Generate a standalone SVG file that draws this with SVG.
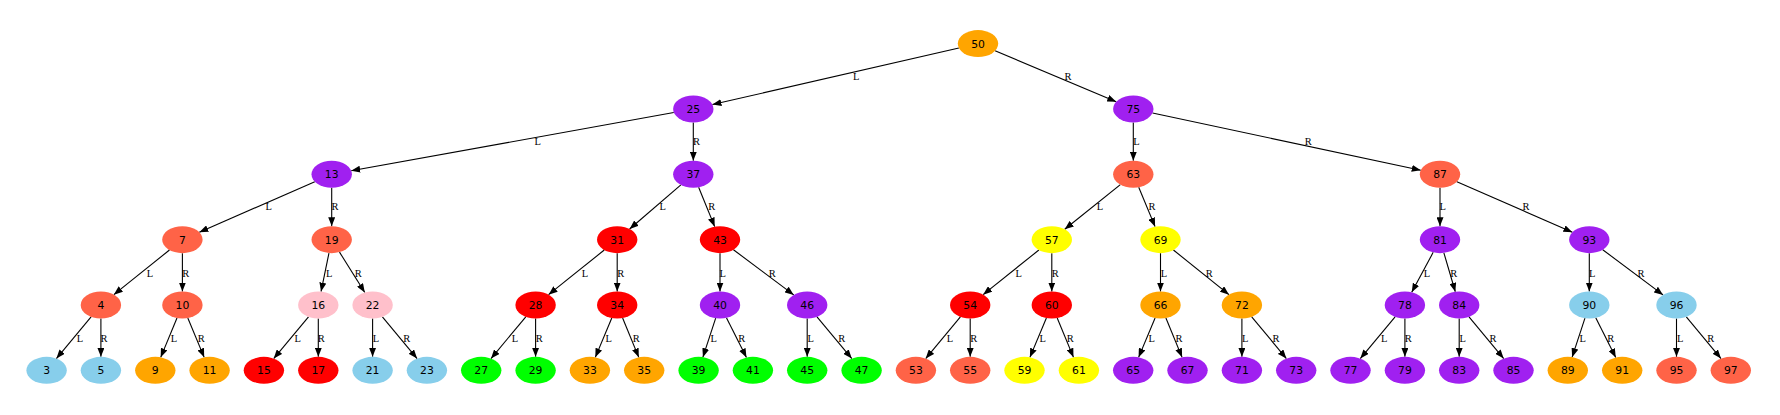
<svg xmlns="http://www.w3.org/2000/svg" width="1780" height="415" viewBox="0 0 1780 415">
<style>
.e line{stroke:#000;stroke-width:1.1;fill:none;marker-end:url(#ah)}
.e text{font-family:"Liberation Serif","DejaVu Serif",serif;font-size:10.5px;fill:#000;text-anchor:middle}
.n ellipse{stroke:none}
.n text{font-family:"DejaVu Sans","Liberation Sans",sans-serif;font-size:10.8px;fill:#000;text-anchor:middle}
.orange{fill:#FFA500}.purple{fill:#A020F0}.tomato{fill:#FF6347}.red{fill:#FF0000}
.pink{fill:#FFC0CB}.sky{fill:#87CEEB}.green{fill:#00FF00}.yellow{fill:#FFFF00}
</style>
<defs>
<marker id="ah" viewBox="0 0 9 7" refX="9" refY="3.5" markerWidth="9" markerHeight="7" markerUnits="userSpaceOnUse" orient="auto" preserveAspectRatio="none">
<path d="M0,0 L9,3.5 L0,7 z" fill="#000"/>
</marker>
</defs>
<rect width="1780" height="415" fill="#fff"/>
<g id="connectors" class="e">
<line x1="958.89" y1="47.99" x2="712.41" y2="104.56"/><text x="856.2" y="80">L</text>
<line x1="995.09" y1="50.79" x2="1116.21" y2="101.76"/><text x="1068" y="80">R</text>
<line x1="673.8" y1="112.47" x2="351.2" y2="170.78"/><text x="537.7" y="145.3">L</text>
<line x1="693.3" y1="122.45" x2="693.3" y2="160.8"/><text x="696.4" y="145.3">R</text>
<line x1="1133.3" y1="122.45" x2="1133.3" y2="160.8"/><text x="1136.5" y="145.3">L</text>
<line x1="1152.55" y1="113.05" x2="1420.75" y2="170.2"/><text x="1308.2" y="145.3">R</text>
<line x1="314.8" y1="181.7" x2="199.3" y2="232.25"/><text x="268.7" y="210.4">L</text>
<line x1="331.7" y1="187.8" x2="331.7" y2="226.15"/><text x="335" y="210.4">R</text>
<line x1="680.89" y1="184.95" x2="629.61" y2="229.0"/><text x="662.7" y="210.4">L</text>
<line x1="698.62" y1="187.32" x2="714.68" y2="226.63"/><text x="711.7" y="210.4">R</text>
<line x1="1120.37" y1="184.67" x2="1064.73" y2="229.28"/><text x="1100" y="210.4">L</text>
<line x1="1138.71" y1="187.31" x2="1155.09" y2="226.64"/><text x="1152" y="210.4">R</text>
<line x1="1440" y1="187.8" x2="1440" y2="226.15"/><text x="1442.7" y="210.4">L</text>
<line x1="1456.9" y1="181.7" x2="1572.4" y2="232.25"/><text x="1526" y="210.4">R</text>
<line x1="169.47" y1="250.02" x2="113.83" y2="294.63"/><text x="150" y="276.7">L</text>
<line x1="182.4" y1="253.15" x2="182.4" y2="291.5"/><text x="185.7" y="276.7">R</text>
<line x1="328.96" y1="253.03" x2="321.04" y2="291.62"/><text x="329.3" y="276.7">L</text>
<line x1="339.49" y1="252.1" x2="364.81" y2="292.55"/><text x="358.3" y="276.7">R</text>
<line x1="604.27" y1="250.02" x2="548.53" y2="294.63"/><text x="585" y="276.7">L</text>
<line x1="617.2" y1="253.15" x2="617.2" y2="291.5"/><text x="620.7" y="276.7">R</text>
<line x1="720" y1="253.15" x2="720" y2="291.5"/><text x="722.7" y="276.7">L</text>
<line x1="733.44" y1="249.73" x2="793.76" y2="294.92"/><text x="772.3" y="276.7">R</text>
<line x1="1038.87" y1="250.02" x2="983.13" y2="294.63"/><text x="1018.7" y="276.7">L</text>
<line x1="1051.8" y1="253.15" x2="1051.8" y2="291.5"/><text x="1055.3" y="276.7">R</text>
<line x1="1160.5" y1="253.15" x2="1160.5" y2="291.5"/><text x="1164" y="276.7">L</text>
<line x1="1173.43" y1="250.02" x2="1228.97" y2="294.63"/><text x="1209.3" y="276.7">R</text>
<line x1="1433.18" y1="252.36" x2="1411.72" y2="292.29"/><text x="1427" y="276.7">L</text>
<line x1="1443.89" y1="252.9" x2="1455.31" y2="291.75"/><text x="1453.7" y="276.7">R</text>
<line x1="1589.3" y1="253.15" x2="1589.3" y2="291.5"/><text x="1592.3" y="276.7">L</text>
<line x1="1602.74" y1="249.73" x2="1663.06" y2="294.92"/><text x="1641" y="276.7">R</text>
<line x1="91.09" y1="316.8" x2="56.41" y2="358.55"/><text x="80" y="342">L</text>
<line x1="100.9" y1="318.5" x2="100.9" y2="356.85"/><text x="104" y="342">R</text>
<line x1="176.99" y1="318.01" x2="160.71" y2="357.34"/><text x="174" y="342">L</text>
<line x1="187.81" y1="318.01" x2="204.19" y2="357.34"/><text x="201.3" y="342">R</text>
<line x1="308.49" y1="316.8" x2="273.71" y2="358.55"/><text x="297.7" y="342">L</text>
<line x1="318.3" y1="318.5" x2="318.3" y2="356.85"/><text x="321.3" y="342">R</text>
<line x1="372.6" y1="318.5" x2="372.6" y2="356.85"/><text x="376" y="342">L</text>
<line x1="382.41" y1="316.8" x2="417.09" y2="358.55"/><text x="406.7" y="342">R</text>
<line x1="525.79" y1="316.8" x2="491.01" y2="358.55"/><text x="515" y="342">L</text>
<line x1="535.6" y1="318.5" x2="535.6" y2="356.85"/><text x="539.3" y="342">R</text>
<line x1="611.79" y1="318.01" x2="595.31" y2="357.34"/><text x="608.7" y="342">L</text>
<line x1="622.61" y1="318.01" x2="638.79" y2="357.34"/><text x="636.3" y="342">R</text>
<line x1="715.68" y1="318.19" x2="702.92" y2="357.16"/><text x="713.7" y="342">L</text>
<line x1="726.44" y1="317.8" x2="746.46" y2="357.55"/><text x="741.7" y="342">R</text>
<line x1="807.2" y1="318.5" x2="807.2" y2="356.85"/><text x="810.7" y="342">L</text>
<line x1="817.01" y1="316.8" x2="851.79" y2="358.55"/><text x="841.7" y="342">R</text>
<line x1="960.39" y1="316.8" x2="925.71" y2="358.55"/><text x="950" y="342">L</text>
<line x1="970.2" y1="318.5" x2="970.2" y2="356.85"/><text x="973.7" y="342">R</text>
<line x1="1046.39" y1="318.01" x2="1029.91" y2="357.34"/><text x="1042.7" y="342">L</text>
<line x1="1057.21" y1="318.01" x2="1073.49" y2="357.34"/><text x="1070.3" y="342">R</text>
<line x1="1155.09" y1="318.01" x2="1138.61" y2="357.34"/><text x="1151.7" y="342">L</text>
<line x1="1165.91" y1="318.01" x2="1182.09" y2="357.34"/><text x="1179" y="342">R</text>
<line x1="1241.9" y1="318.5" x2="1241.9" y2="356.85"/><text x="1245.3" y="342">L</text>
<line x1="1251.71" y1="316.8" x2="1286.39" y2="358.55"/><text x="1276" y="342">R</text>
<line x1="1395.09" y1="316.8" x2="1360.31" y2="358.55"/><text x="1384.3" y="342">L</text>
<line x1="1404.9" y1="318.5" x2="1404.9" y2="356.85"/><text x="1408.3" y="342">R</text>
<line x1="1459.2" y1="318.5" x2="1459.2" y2="356.85"/><text x="1462.7" y="342">L</text>
<line x1="1469.01" y1="316.8" x2="1503.69" y2="358.55"/><text x="1493" y="342">R</text>
<line x1="1584.96" y1="318.19" x2="1572.14" y2="357.16"/><text x="1582.7" y="342">L</text>
<line x1="1595.74" y1="317.8" x2="1615.76" y2="357.55"/><text x="1610.7" y="342">R</text>
<line x1="1676.5" y1="318.5" x2="1676.5" y2="356.85"/><text x="1680.3" y="342">L</text>
<line x1="1686.31" y1="316.8" x2="1720.99" y2="358.55"/><text x="1710.7" y="342">R</text>
</g>
<g id="n50" class="n"><ellipse class="orange" cx="978" cy="43.6" rx="20.2" ry="13.5"/><text x="978" y="47.5">50</text></g>
<g id="n25" class="n"><ellipse class="purple" cx="693.3" cy="108.95" rx="20.2" ry="13.5"/><text x="693.3" y="112.85">25</text></g>
<g id="n75" class="n"><ellipse class="purple" cx="1133.3" cy="108.95" rx="20.2" ry="13.5"/><text x="1133.3" y="112.85">75</text></g>
<g id="n13" class="n"><ellipse class="purple" cx="331.7" cy="174.3" rx="20.2" ry="13.5"/><text x="331.7" y="178.2">13</text></g>
<g id="n37" class="n"><ellipse class="purple" cx="693.3" cy="174.3" rx="20.2" ry="13.5"/><text x="693.3" y="178.2">37</text></g>
<g id="n63" class="n"><ellipse class="tomato" cx="1133.3" cy="174.3" rx="20.2" ry="13.5"/><text x="1133.3" y="178.2">63</text></g>
<g id="n87" class="n"><ellipse class="tomato" cx="1440" cy="174.3" rx="20.2" ry="13.5"/><text x="1440" y="178.2">87</text></g>
<g id="n7" class="n"><ellipse class="tomato" cx="182.4" cy="239.65" rx="20.2" ry="13.5"/><text x="182.4" y="243.55">7</text></g>
<g id="n19" class="n"><ellipse class="tomato" cx="331.7" cy="239.65" rx="20.2" ry="13.5"/><text x="331.7" y="243.55">19</text></g>
<g id="n31" class="n"><ellipse class="red" cx="617.2" cy="239.65" rx="20.2" ry="13.5"/><text x="617.2" y="243.55">31</text></g>
<g id="n43" class="n"><ellipse class="red" cx="720" cy="239.65" rx="20.2" ry="13.5"/><text x="720" y="243.55">43</text></g>
<g id="n57" class="n"><ellipse class="yellow" cx="1051.8" cy="239.65" rx="20.2" ry="13.5"/><text x="1051.8" y="243.55">57</text></g>
<g id="n69" class="n"><ellipse class="yellow" cx="1160.5" cy="239.65" rx="20.2" ry="13.5"/><text x="1160.5" y="243.55">69</text></g>
<g id="n81" class="n"><ellipse class="purple" cx="1440" cy="239.65" rx="20.2" ry="13.5"/><text x="1440" y="243.55">81</text></g>
<g id="n93" class="n"><ellipse class="purple" cx="1589.3" cy="239.65" rx="20.2" ry="13.5"/><text x="1589.3" y="243.55">93</text></g>
<g id="n4" class="n"><ellipse class="tomato" cx="100.9" cy="305" rx="20.2" ry="13.5"/><text x="100.9" y="308.9">4</text></g>
<g id="n10" class="n"><ellipse class="tomato" cx="182.4" cy="305" rx="20.2" ry="13.5"/><text x="182.4" y="308.9">10</text></g>
<g id="n16" class="n"><ellipse class="pink" cx="318.3" cy="305" rx="20.2" ry="13.5"/><text x="318.3" y="308.9">16</text></g>
<g id="n22" class="n"><ellipse class="pink" cx="372.6" cy="305" rx="20.2" ry="13.5"/><text x="372.6" y="308.9">22</text></g>
<g id="n28" class="n"><ellipse class="red" cx="535.6" cy="305" rx="20.2" ry="13.5"/><text x="535.6" y="308.9">28</text></g>
<g id="n34" class="n"><ellipse class="red" cx="617.2" cy="305" rx="20.2" ry="13.5"/><text x="617.2" y="308.9">34</text></g>
<g id="n40" class="n"><ellipse class="purple" cx="720" cy="305" rx="20.2" ry="13.5"/><text x="720" y="308.9">40</text></g>
<g id="n46" class="n"><ellipse class="purple" cx="807.2" cy="305" rx="20.2" ry="13.5"/><text x="807.2" y="308.9">46</text></g>
<g id="n54" class="n"><ellipse class="red" cx="970.2" cy="305" rx="20.2" ry="13.5"/><text x="970.2" y="308.9">54</text></g>
<g id="n60" class="n"><ellipse class="red" cx="1051.8" cy="305" rx="20.2" ry="13.5"/><text x="1051.8" y="308.9">60</text></g>
<g id="n66" class="n"><ellipse class="orange" cx="1160.5" cy="305" rx="20.2" ry="13.5"/><text x="1160.5" y="308.9">66</text></g>
<g id="n72" class="n"><ellipse class="orange" cx="1241.9" cy="305" rx="20.2" ry="13.5"/><text x="1241.9" y="308.9">72</text></g>
<g id="n78" class="n"><ellipse class="purple" cx="1404.9" cy="305" rx="20.2" ry="13.5"/><text x="1404.9" y="308.9">78</text></g>
<g id="n84" class="n"><ellipse class="purple" cx="1459.2" cy="305" rx="20.2" ry="13.5"/><text x="1459.2" y="308.9">84</text></g>
<g id="n90" class="n"><ellipse class="sky" cx="1589.3" cy="305" rx="20.2" ry="13.5"/><text x="1589.3" y="308.9">90</text></g>
<g id="n96" class="n"><ellipse class="sky" cx="1676.5" cy="305" rx="20.2" ry="13.5"/><text x="1676.5" y="308.9">96</text></g>
<g id="n3" class="n"><ellipse class="sky" cx="46.6" cy="370.35" rx="20.2" ry="13.5"/><text x="46.6" y="374.25">3</text></g>
<g id="n5" class="n"><ellipse class="sky" cx="100.9" cy="370.35" rx="20.2" ry="13.5"/><text x="100.9" y="374.25">5</text></g>
<g id="n9" class="n"><ellipse class="orange" cx="155.3" cy="370.35" rx="20.2" ry="13.5"/><text x="155.3" y="374.25">9</text></g>
<g id="n11" class="n"><ellipse class="orange" cx="209.6" cy="370.35" rx="20.2" ry="13.5"/><text x="209.6" y="374.25">11</text></g>
<g id="n15" class="n"><ellipse class="red" cx="263.9" cy="370.35" rx="20.2" ry="13.5"/><text x="263.9" y="374.25">15</text></g>
<g id="n17" class="n"><ellipse class="red" cx="318.3" cy="370.35" rx="20.2" ry="13.5"/><text x="318.3" y="374.25">17</text></g>
<g id="n21" class="n"><ellipse class="sky" cx="372.6" cy="370.35" rx="20.2" ry="13.5"/><text x="372.6" y="374.25">21</text></g>
<g id="n23" class="n"><ellipse class="sky" cx="426.9" cy="370.35" rx="20.2" ry="13.5"/><text x="426.9" y="374.25">23</text></g>
<g id="n27" class="n"><ellipse class="green" cx="481.2" cy="370.35" rx="20.2" ry="13.5"/><text x="481.2" y="374.25">27</text></g>
<g id="n29" class="n"><ellipse class="green" cx="535.6" cy="370.35" rx="20.2" ry="13.5"/><text x="535.6" y="374.25">29</text></g>
<g id="n33" class="n"><ellipse class="orange" cx="589.9" cy="370.35" rx="20.2" ry="13.5"/><text x="589.9" y="374.25">33</text></g>
<g id="n35" class="n"><ellipse class="orange" cx="644.2" cy="370.35" rx="20.2" ry="13.5"/><text x="644.2" y="374.25">35</text></g>
<g id="n39" class="n"><ellipse class="green" cx="698.6" cy="370.35" rx="20.2" ry="13.5"/><text x="698.6" y="374.25">39</text></g>
<g id="n41" class="n"><ellipse class="green" cx="752.9" cy="370.35" rx="20.2" ry="13.5"/><text x="752.9" y="374.25">41</text></g>
<g id="n45" class="n"><ellipse class="green" cx="807.2" cy="370.35" rx="20.2" ry="13.5"/><text x="807.2" y="374.25">45</text></g>
<g id="n47" class="n"><ellipse class="green" cx="861.6" cy="370.35" rx="20.2" ry="13.5"/><text x="861.6" y="374.25">47</text></g>
<g id="n53" class="n"><ellipse class="tomato" cx="915.9" cy="370.35" rx="20.2" ry="13.5"/><text x="915.9" y="374.25">53</text></g>
<g id="n55" class="n"><ellipse class="tomato" cx="970.2" cy="370.35" rx="20.2" ry="13.5"/><text x="970.2" y="374.25">55</text></g>
<g id="n59" class="n"><ellipse class="yellow" cx="1024.5" cy="370.35" rx="20.2" ry="13.5"/><text x="1024.5" y="374.25">59</text></g>
<g id="n61" class="n"><ellipse class="yellow" cx="1078.9" cy="370.35" rx="20.2" ry="13.5"/><text x="1078.9" y="374.25">61</text></g>
<g id="n65" class="n"><ellipse class="purple" cx="1133.2" cy="370.35" rx="20.2" ry="13.5"/><text x="1133.2" y="374.25">65</text></g>
<g id="n67" class="n"><ellipse class="purple" cx="1187.5" cy="370.35" rx="20.2" ry="13.5"/><text x="1187.5" y="374.25">67</text></g>
<g id="n71" class="n"><ellipse class="purple" cx="1241.9" cy="370.35" rx="20.2" ry="13.5"/><text x="1241.9" y="374.25">71</text></g>
<g id="n73" class="n"><ellipse class="purple" cx="1296.2" cy="370.35" rx="20.2" ry="13.5"/><text x="1296.2" y="374.25">73</text></g>
<g id="n77" class="n"><ellipse class="purple" cx="1350.5" cy="370.35" rx="20.2" ry="13.5"/><text x="1350.5" y="374.25">77</text></g>
<g id="n79" class="n"><ellipse class="purple" cx="1404.9" cy="370.35" rx="20.2" ry="13.5"/><text x="1404.9" y="374.25">79</text></g>
<g id="n83" class="n"><ellipse class="purple" cx="1459.2" cy="370.35" rx="20.2" ry="13.5"/><text x="1459.2" y="374.25">83</text></g>
<g id="n85" class="n"><ellipse class="purple" cx="1513.5" cy="370.35" rx="20.2" ry="13.5"/><text x="1513.5" y="374.25">85</text></g>
<g id="n89" class="n"><ellipse class="orange" cx="1567.8" cy="370.35" rx="20.2" ry="13.5"/><text x="1567.8" y="374.25">89</text></g>
<g id="n91" class="n"><ellipse class="orange" cx="1622.2" cy="370.35" rx="20.2" ry="13.5"/><text x="1622.2" y="374.25">91</text></g>
<g id="n95" class="n"><ellipse class="tomato" cx="1676.5" cy="370.35" rx="20.2" ry="13.5"/><text x="1676.5" y="374.25">95</text></g>
<g id="n97" class="n"><ellipse class="tomato" cx="1730.8" cy="370.35" rx="20.2" ry="13.5"/><text x="1730.8" y="374.25">97</text></g>
</svg>
